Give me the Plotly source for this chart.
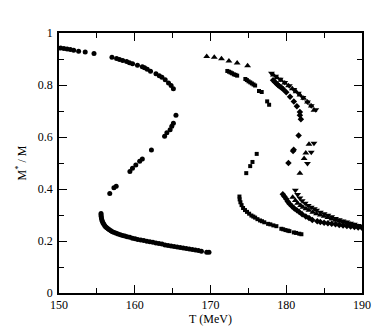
import plotly.graph_objects as go

# circles: S-curve between 150 and 170 MeV
circ_t = [150.22, 150.65, 151.07, 151.5, 151.94, 152.59, 153.46, 154.62, 156.99, 157.6, 157.99,
          158.41, 158.93, 159.3, 159.71, 160.36, 161.0, 161.3, 161.65, 162.08, 162.8, 163.24,
          163.59, 164.02, 164.46, 164.8, 165.1,
          165.44, 165.1, 164.89, 164.67, 164.24, 163.94, 162.2, 161.0, 160.65, 160.14,
          159.7, 159.36, 157.55, 157.25, 156.7,
          155.55, 155.55, 155.57, 155.6, 155.65, 155.72, 155.8, 155.9, 156.02, 156.15,
          156.3, 156.47, 156.65, 156.85, 157.05, 157.3, 157.55, 157.8, 158.1, 158.4,
          158.7, 159.0, 159.35, 159.7, 160.05, 160.4, 160.8, 161.2, 161.6, 162.0,
          162.4, 162.8, 163.2, 163.6, 164.0, 164.4, 164.8, 165.2, 165.6, 166.0,
          166.4, 166.8, 167.2, 167.6, 168.0, 168.4, 168.8, 169.5, 169.8]
circ_m = [0.942, 0.940, 0.938, 0.937, 0.934, 0.930, 0.927, 0.921, 0.907, 0.902, 0.898,
          0.894, 0.890, 0.886, 0.882, 0.876, 0.870, 0.866, 0.861, 0.853, 0.843, 0.836,
          0.830, 0.820, 0.808, 0.798, 0.786,
          0.684, 0.653, 0.641, 0.628, 0.616, 0.603, 0.550, 0.515, 0.507, 0.492,
          0.480, 0.467, 0.411, 0.405, 0.383,
          0.306, 0.300, 0.294, 0.288, 0.282, 0.276, 0.270, 0.265, 0.260, 0.255,
          0.251, 0.247, 0.243, 0.239, 0.236, 0.233, 0.230, 0.227, 0.224, 0.221,
          0.219, 0.216, 0.214, 0.211, 0.209, 0.206, 0.204, 0.202, 0.199, 0.197,
          0.195, 0.192, 0.190, 0.188, 0.185, 0.183, 0.181, 0.179, 0.177, 0.175,
          0.173, 0.171, 0.169, 0.167, 0.165, 0.163, 0.161, 0.157, 0.157]

# squares
sq_t = [172.22, 172.45, 172.65, 172.85, 173.08, 173.3, 173.52, 174.6, 174.8, 175.02, 175.25,
        175.46, 175.68, 175.89, 176.4, 176.76, 177.48, 177.74,
        176.1, 175.54, 175.24, 174.72,
        173.82, 173.85, 173.95, 174.1, 174.3, 174.55, 174.82, 175.1, 175.4, 175.65, 175.89,
        176.2, 176.54, 176.8, 177.1, 177.6, 177.9, 178.3, 178.7, 179.35, 179.6, 179.9,
        180.2, 180.42, 181.0, 181.3, 181.72, 182.0]
sq_m = [0.854, 0.851, 0.848, 0.845, 0.841, 0.839, 0.836, 0.823, 0.819, 0.814, 0.810,
        0.806, 0.802, 0.798, 0.777, 0.773, 0.737, 0.724,
        0.535, 0.504, 0.488, 0.461,
        0.371, 0.360, 0.349, 0.338, 0.327, 0.319, 0.312, 0.305, 0.298, 0.294, 0.290,
        0.284, 0.279, 0.276, 0.272, 0.266, 0.264, 0.260, 0.257, 0.247, 0.245, 0.242,
        0.240, 0.238, 0.233, 0.231, 0.228, 0.226]

# diamonds
dia_t = [178.26, 178.5, 178.7, 178.9, 179.1, 179.35, 179.6, 180.0, 180.5, 181.0, 181.4,
         181.8, 181.8, 181.93,
         181.63, 180.98, 180.9, 180.29,
         179.55, 179.75, 180.0, 180.2, 180.42, 180.75, 181.07, 181.4, 181.72, 182.1, 182.58,
         183.0, 183.44, 184.09, 184.5, 185.0, 185.5, 186.0, 186.5, 187.0, 187.5, 188.0,
         188.5, 189.0, 189.5, 190.0]
dia_m = [0.818, 0.812, 0.806, 0.800, 0.795, 0.790, 0.784, 0.772, 0.755, 0.737, 0.718,
         0.696, 0.684, 0.668,
         0.606, 0.551, 0.546, 0.500,
         0.380, 0.371, 0.362, 0.352, 0.343, 0.334, 0.325, 0.318, 0.312, 0.303, 0.294,
         0.288, 0.281, 0.276, 0.273, 0.270, 0.268, 0.266, 0.264, 0.262, 0.260, 0.258,
         0.256, 0.254, 0.252, 0.251]

# triangles up
tu_t = [169.5, 170.5, 171.45, 172.43, 173.52, 174.9,
        178.3, 178.8, 179.3, 179.8, 180.3, 180.8, 181.3, 181.8, 182.3, 182.8, 183.3, 183.66,
        183.0, 182.58, 182.36, 181.8, 180.85,
        181.2, 181.5, 181.9, 182.2, 182.6, 183.0, 183.5, 184.0, 184.5, 185.0, 185.5,
        186.0, 186.5, 187.0, 187.5, 188.0, 188.5, 189.0, 189.5, 190.0]
tu_m = [0.910, 0.907, 0.901, 0.892, 0.885, 0.874,
        0.838, 0.828, 0.818, 0.808, 0.797, 0.786, 0.774, 0.762, 0.749, 0.735, 0.719, 0.703,
        0.572, 0.538, 0.517, 0.461, 0.368,
        0.356, 0.345, 0.337, 0.330, 0.324, 0.318, 0.311, 0.305, 0.300, 0.295, 0.290,
        0.285, 0.280, 0.276, 0.272, 0.268, 0.264, 0.260, 0.256, 0.253]

# triangles down
td_t = [178.05, 178.6, 179.2, 179.8, 180.4, 181.0, 181.6, 182.2, 182.8, 183.3, 183.9,
        183.66, 183.3, 182.8, 181.2,
        181.5, 181.8, 182.1, 182.5, 182.9, 183.3, 183.7, 184.0, 184.5, 185.0, 185.5,
        186.0, 186.5, 187.0, 187.5, 188.0, 188.5, 189.0, 189.5, 190.0]
td_m = [0.845, 0.834, 0.822, 0.810, 0.797, 0.783, 0.768, 0.752, 0.735, 0.720, 0.705,
        0.576, 0.541, 0.498, 0.395,
        0.379, 0.365, 0.355, 0.345, 0.337, 0.330, 0.324, 0.318, 0.311, 0.305, 0.299,
        0.293, 0.287, 0.282, 0.277, 0.273, 0.268, 0.264, 0.260, 0.256]

serif = "Liberation Serif, Times New Roman, serif"

fig = go.Figure()
for t, m, sym, sz in [(circ_t, circ_m, "circle", 5), (sq_t, sq_m, "square", 4),
                      (dia_t, dia_m, "diamond", 5), (tu_t, tu_m, "triangle-up", 6),
                      (td_t, td_m, "triangle-down", 6)]:
    fig.add_trace(go.Scatter(x=t, y=m, mode="markers",
                             marker=dict(symbol=sym, size=sz, color="black", line=dict(width=0))))

axis_style = dict(showline=True, linecolor="black", linewidth=1.5, mirror="allticks",
                  ticks="inside", ticklen=8, tickwidth=1.2, tickcolor="black",
                  showgrid=False, zeroline=False,
                  tickfont=dict(family=serif, size=12, color="black"))

fig.update_xaxes(range=[150, 190], dtick=10, tick0=150,
                 minor=dict(dtick=5, ticks="inside", ticklen=5, tickcolor="black", tickwidth=1.2),
                 title=dict(text="T (MeV)", standoff=2,
                            font=dict(family=serif, size=12, color="black")),
                 **axis_style)
fig.update_yaxes(range=[0, 1], dtick=0.2, tick0=0, tickformat="~g", ticklabelstandoff=2,
                 minor=dict(dtick=0.1, ticks="inside", ticklen=5, tickcolor="black", tickwidth=1.2),
                 title=dict(text="M<sup>*</sup> / M", standoff=9,
                            font=dict(family=serif, size=12, color="black")),
                 **axis_style)

fig.update_layout(width=382, height=327, showlegend=False,
                  margin=dict(l=45, r=28, t=25, b=33),
                  font=dict(family=serif),
                  plot_bgcolor="white", paper_bgcolor="white")

fig.write_html("out.html")
